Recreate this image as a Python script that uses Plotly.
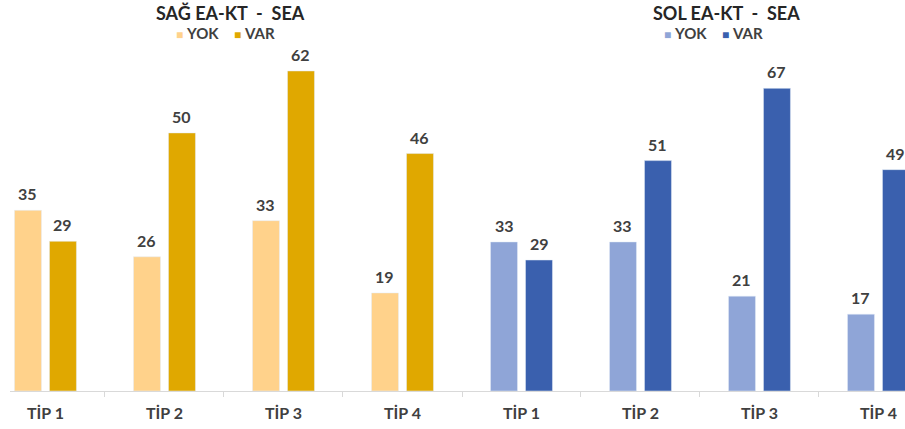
import plotly.graph_objects as go

categories = ["TİP 1", "TİP 2", "TİP 3", "TİP 4"]
sag_yok = [35, 26, 33, 19]
sag_var = [29, 50, 62, 46]
sol_yok = [33, 33, 21, 17]
sol_var = [29, 51, 67, 49]

W, H = 905, 429
FONT = "Lato"
TXT = "#404040"
c_sag_yok, c_sag_var = "#FFD28B", "#E0A800"
c_sol_yok, c_sol_var = "#8FA5D7", "#3A60AE"

fig = go.Figure()

def add_bar(vals, name, color, xa, ya, shift):
    fig.add_trace(go.Bar(
        x=categories, y=vals, name=name, marker_color=color,
        cliponaxis=False, showlegend=False, xaxis=xa, yaxis=ya,
    ))
    for c, v in zip(categories, vals):
        fig.add_annotation(
            x=c, y=v, xref=xa, yref=ya, text="<b>%d</b>" % v, showarrow=False,
            xanchor="center", yanchor="bottom", xshift=shift, yshift=5,
            font=dict(family=FONT, size=16, color=TXT),
        )

add_bar(sag_yok, "YOK", c_sag_yok, "x", "y", -17.5)
add_bar(sag_var, "VAR", c_sag_var, "x", "y", 17.5)
add_bar(sol_yok, "YOK", c_sol_yok, "x2", "y2", -17.5)
add_bar(sol_var, "VAR", c_sol_var, "x2", "y2", 17.5)

xcommon = dict(
    type="category", showline=True, linecolor="#D9D9D9", linewidth=1,
    ticks="outside", tickson="boundaries", ticklen=5, tickcolor="#D9D9D9",
    tickfont=dict(family=FONT, size=16, color=TXT, weight="bold"),
    ticklabelstandoff=8,
    showgrid=False, zeroline=False, fixedrange=True,
)
ydom = [38 / H, 1 - 40 / H]
fig.update_layout(
    width=W, height=H,
    margin=dict(l=0, r=0, t=0, b=0),
    paper_bgcolor="white", plot_bgcolor="white",
    barmode="group", bargap=0.412, bargroupgap=0.229,
    xaxis=dict(domain=[10 / W, 462 / W], range=[-0.298, 3.5], anchor="y", **xcommon),
    xaxis2=dict(domain=[462 / W, 1.0], range=[-0.5, 3.223], anchor="y2", **xcommon),
    yaxis=dict(domain=ydom, range=[0, 68], visible=False, anchor="x", fixedrange=True),
    yaxis2=dict(domain=ydom, range=[0, 77.7], visible=False, anchor="x2", fixedrange=True),
)

def title(text, xc):
    fig.add_annotation(
        text="<b>" + text + "</b>", x=xc / W, y=1 - 13 / H, xref="paper", yref="paper",
        xanchor="center", yanchor="middle", showarrow=False,
        font=dict(family=FONT, size=18, color="#262626"),
    )

def legend(c1, c2, xc):
    t = ("<span style='color:%s;font-size:12px'>■</span> <b>YOK</b>"
         "    <span style='color:%s;font-size:12px'>■</span> <b>VAR</b>") % (c1, c2)
    fig.add_annotation(
        text=t, x=xc / W, y=1 - 33 / H, xref="paper", yref="paper",
        xanchor="center", yanchor="middle", showarrow=False,
        font=dict(family=FONT, size=15, color=TXT),
    )

title("SAĞ EA-KT  -  SEA", 230)
title("SOL EA-KT  -  SEA", 726)
legend(c_sag_yok, c_sag_var, 225)
legend(c_sol_yok, c_sol_var, 713)

fig.write_html("out.html", config={"displayModeBar": False},
               post_script="document.body.style.margin='0';")
